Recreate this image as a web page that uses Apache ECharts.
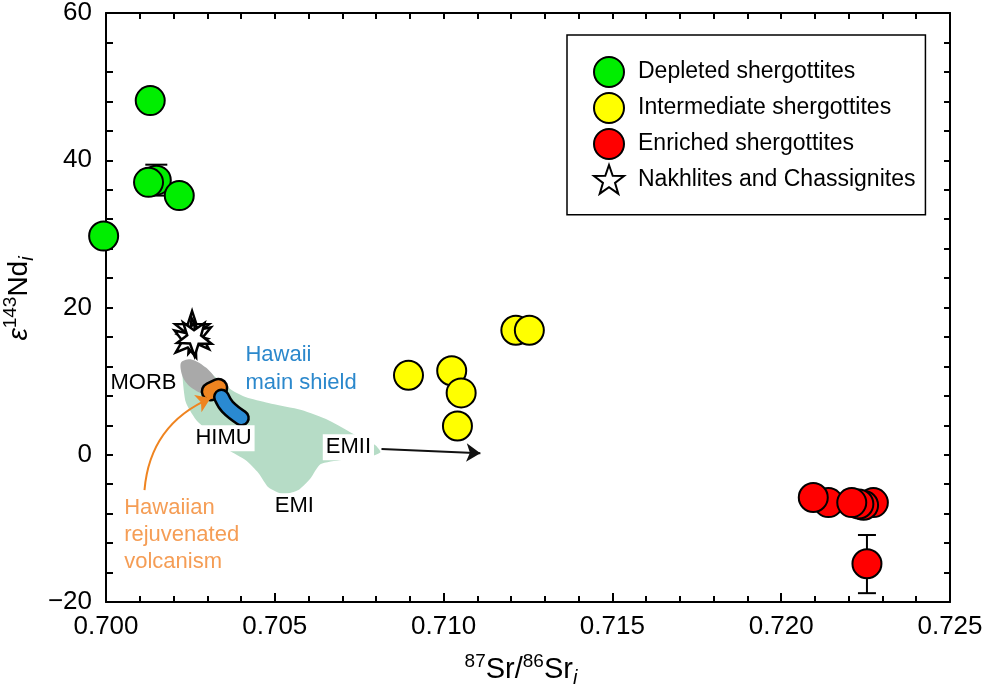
<!DOCTYPE html>
<html>
<head>
<meta charset="utf-8">
<script src="https://cdn.jsdelivr.net/npm/echarts@6/dist/echarts.min.js"></script>
<style>
html, body { margin: 0; padding: 0; background: #ffffff; }
#chart { width: 985px; height: 695px; }
</style>
</head>
<body>
<div id="chart"></div>
<script>
// sample points [87Sr/86Sr, eps143Nd]
var depleted = [[0.70149, 37.3], [0.70126, 37.0], [0.70217, 35.2], [0.69993, 29.7], [0.70131, 48.1]];
var intermediate = [[0.70896, 10.8], [0.71024, 11.4], [0.71052, 8.4], [0.71041, 3.9], [0.71214, 16.9], [0.71254, 16.9]];
var enriched = [[0.72273, -6.5], [0.72244, -6.85], [0.72230, -6.7], [0.72140, -6.5], [0.72209, -6.5], [0.72095, -5.8], [0.72254, -14.8]];
var nakhlites = [[0.70255, 17.2], [0.70264, 16.3], [0.70249, 15.8], [0.70258, 16.1]];
var starRotate = [0, 12, -14, 36];

// error bars [x, low, high]
var errDepleted = [[0.70149, 35.2, 39.4]];
var errEnriched = [[0.72254, -18.8, -10.9]];

// mantle reservoir fields
var mantleArray = [[0.70226, 12.0], [0.70236, 7.2], [0.70266, 4.8], [0.70310, 2.9], [0.70363, 0.63],
  [0.70413, -0.73], [0.70452, -2.5], [0.70481, -4.4], [0.70526, -5.36], [0.70570, -4.8], [0.70606, -3.2],
  [0.70635, -1.3], [0.70698, -0.73], [0.70778, -0.33], [0.70813, 0.35], [0.70798, 1.3], [0.70739, 2.67],
  [0.70659, 4.7], [0.70579, 6.07], [0.70481, 7.02], [0.70413, 7.84], [0.70372, 8.8], [0.70324, 10.55],
  [0.70283, 12.18], [0.70244, 12.86]];
var morb = [[0.70222, 12.5], [0.70253, 12.95], [0.70297, 11.8], [0.70326, 10.1], [0.70320, 8.7],
  [0.70295, 8.2], [0.70253, 9.1], [0.70228, 10.5]];
var himu = [[0.70310, 8.6], [0.70333, 9.1]];
var hawaiiShield = [[0.70342, 7.84], [0.70360, 6.5], [0.70401, 5.0]];

// arrows [from, to]
var emiiArrow = [[0.70816, 0.79], [0.71109, 0.22]];
var rejuvArrow = [[0.70114, -4.8], [0.70310, 7.7]];

// text labels [x, y, text, kind]
var notes = [
  [0.70111, 9.74, 'MORB', 'plain'],
  [0.70348, 2.25, 'HIMU', 'boxed'],
  [0.70718, 1.03, 'EMII', 'boxed'],
  [0.70558, -6.99, 'EMI', 'boxed'],
  [0.70413, 11.64, 'Hawaii\nmain shield', 'blue'],
  [0.70036, -10.93, 'Hawaiian\nrejuvenated\nvolcanism', 'orange']
];

var xTicks = { min: 0.700, max: 0.725, step: 0.005 };
var yTicks = { min: -20, max: 60, step: 20 };

var font = 'Liberation Sans, Arial, Helvetica, sans-serif';
var starPath = 'path://M50,2 L61.8,36.2 L97.6,36.9 L69.1,58.6 L79.4,93 L50,72.5 L20.6,93 L30.9,58.6 L2.4,36.9 L38.2,36.2 Z';

var dom = document.getElementById('chart');
var myChart = echarts.init(dom);

function polygonSeries(pts, color, z, smooth) {
  return {
    type: 'custom',
    silent: true,
    z: z,
    data: [0],
    renderItem: function (params, api) {
      return {
        type: 'polygon',
        shape: { points: pts.map(function (p) { return api.coord(p); }), smooth: smooth },
        style: { fill: color, stroke: 'none' }
      };
    }
  };
}

function errorSeries(rows, capW) {
  return {
    type: 'custom',
    silent: true,
    z: 4,
    data: rows,
    renderItem: function (params, api) {
      var lo = api.coord([api.value(0), api.value(1)]);
      var hi = api.coord([api.value(0), api.value(2)]);
      var st = { stroke: '#000', lineWidth: 2 };
      return {
        type: 'group',
        children: [
          { type: 'line', shape: { x1: lo[0], y1: lo[1], x2: hi[0], y2: hi[1] }, style: st },
          { type: 'line', shape: { x1: lo[0] - capW / 2, y1: lo[1], x2: lo[0] + capW / 2, y2: lo[1] }, style: st },
          { type: 'line', shape: { x1: hi[0] - capW / 2, y1: hi[1], x2: hi[0] + capW / 2, y2: hi[1] }, style: st }
        ]
      };
    }
  };
}

function strokeSeries(pts, color, width, z) {
  return {
    type: 'line',
    silent: true,
    z: z,
    data: pts,
    symbol: 'none',
    smooth: 0.4,
    lineStyle: { color: color, width: width, cap: 'round', join: 'round', opacity: 1 }
  };
}

function pointSeries(name, pts, color) {
  return {
    name: name,
    type: 'scatter',
    z: 10,
    clip: false,
    symbolSize: 29,
    data: pts,
    itemStyle: { color: color, borderColor: '#000', borderWidth: 2, opacity: 1 }
  };
}

var noteStyles = {
  plain: { color: '#000' },
  boxed: { color: '#000', backgroundColor: '#fff', padding: [2, 3] },
  blue: { color: '#2b88cc', align: 'left', lineHeight: 28 },
  orange: { color: '#f59d55', align: 'left', lineHeight: 27, backgroundColor: '#fff', padding: [4, 6] }
};

var axisBlack = { color: '#000', width: 2 };
var richTitle = {
  it: { fontSize: 28, fontStyle: 'italic', color: '#000', fontFamily: font },
  sup: { fontSize: 19, verticalAlign: 'top', padding: [0, 0, 14, 0], color: '#000', fontFamily: font },
  sub: { fontSize: 20, fontStyle: 'italic', padding: [16, 0, 0, 0], color: '#000', fontFamily: font }
};

option = {
  backgroundColor: '#ffffff',
  animation: false,
  textStyle: { fontFamily: font },
  grid: { left: 106, right: 35, top: 13, bottom: 93, containLabel: false, outerBoundsMode: 'none' },
  legend: {
    orient: 'vertical',
    left: 567,
    top: 35,
    padding: [21, 10, 20, 26],
    itemWidth: 30,
    itemHeight: 30,
    itemGap: 4,
    borderColor: '#000',
    borderWidth: 1.5,
    textStyle: { fontSize: 23, color: '#000', fontFamily: font, padding: [0, 0, 0, 9] },
    data: ['Depleted shergottites', 'Intermediate shergottites', 'Enriched shergottites', 'Nakhlites and Chassignites']
  },
  xAxis: [{
    type: 'value',
    min: xTicks.min,
    max: xTicks.max,
    interval: xTicks.step,
    name: '{sup|87}Sr/{sup|86}Sr{sub|i}',
    nameLocation: 'middle',
    nameGap: 50,
    nameTextStyle: { fontSize: 29, color: '#000', fontFamily: font, rich: richTitle, padding: [0, 14, 0, 0] },
    axisLine: { onZero: false, lineStyle: axisBlack },
    axisTick: { inside: true, length: 9, lineStyle: axisBlack },
    minorTick: { show: true, splitNumber: 5, length: 6, lineStyle: axisBlack },
    splitLine: { show: false },
    axisLabel: { fontSize: 26, color: '#000', margin: 12, formatter: function (v) { return v.toFixed(3); } }
  }, {
    type: 'value',
    position: 'top',
    min: xTicks.min,
    max: xTicks.max,
    interval: 0.001,
    axisLine: { onZero: false, lineStyle: axisBlack },
    axisTick: { inside: true, length: 6, lineStyle: axisBlack },
    splitLine: { show: false },
    axisLabel: { show: false }
  }],
  yAxis: [{
    type: 'value',
    min: yTicks.min,
    max: yTicks.max,
    interval: yTicks.step,
    name: '{it|ε}{sup|143}Nd{sub|i}',
    nameLocation: 'middle',
    nameGap: 56,
    nameRotate: 90,
    nameTextStyle: { fontSize: 28, color: '#000', fontFamily: font, rich: richTitle, padding: [0, 0, 0, 18] },
    axisLine: { onZero: false, lineStyle: axisBlack },
    axisTick: { inside: true, length: 7, lineStyle: axisBlack },
    minorTick: { show: true, splitNumber: 5, length: 7, lineStyle: axisBlack },
    splitLine: { show: false },
    axisLabel: { fontSize: 26, color: '#000', margin: 14, formatter: function (v) { return v < 0 ? '\u2212' + Math.abs(v) : String(v); } }
  }, {
    type: 'value',
    position: 'right',
    min: yTicks.min,
    max: yTicks.max,
    interval: 4,
    axisLine: { onZero: false, lineStyle: axisBlack },
    axisTick: { inside: true, length: 6, lineStyle: axisBlack },
    splitLine: { show: false },
    axisLabel: { show: false }
  }],
  series: [
    polygonSeries(mantleArray, '#b6dcc6', 1, 0.2),
    polygonSeries(morb, '#a9a9a9', 2, 0.3),
    strokeSeries(himu, '#000', 20, 3),
    strokeSeries(himu, '#ef8420', 15, 3),
    strokeSeries(hawaiiShield, '#000', 17, 3),
    strokeSeries(hawaiiShield, '#2a8ad2', 12, 3),
    {
      type: 'lines',
      coordinateSystem: 'cartesian2d',
      silent: true,
      z: 5,
      symbol: ['none', 'arrow'],
      symbolSize: 14,
      data: [
        { coords: emiiArrow, lineStyle: { color: '#111', width: 2, curveness: 0, opacity: 1 } },
        { coords: rejuvArrow, lineStyle: { color: '#ef8420', width: 2, curveness: 0.3, opacity: 1 } }
      ]
    },
    {
      type: 'scatter',
      silent: true,
      z: 6,
      symbolSize: 1,
      itemStyle: { opacity: 0 },
      data: notes.map(function (n) {
        var s = noteStyles[n[3]];
        return {
          value: [n[0], n[1]],
          label: Object.assign({
            show: true, position: 'inside', formatter: n[2], fontSize: 22, fontFamily: font,
            opacity: 1, textBorderWidth: 0
          }, s)
        };
      })
    },
    errorSeries(errDepleted, 22),
    errorSeries(errEnriched, 18),
    pointSeries('Depleted shergottites', depleted, '#00ee00'),
    pointSeries('Intermediate shergottites', intermediate, '#ffff00'),
    pointSeries('Enriched shergottites', enriched, '#ff0000'),
    {
      name: 'Nakhlites and Chassignites',
      type: 'scatter',
      z: 10,
      symbol: starPath,
      symbolSize: 34,
      data: nakhlites.map(function (p, i) { return { value: p, symbolRotate: starRotate[i] }; }),
      itemStyle: { color: '#fff', borderColor: '#000', borderWidth: 2.5, opacity: 1 }
    }
  ]
};

if (option && typeof option === 'object') {
  myChart.setOption(option, true);
}
</script>
</body>
</html>
